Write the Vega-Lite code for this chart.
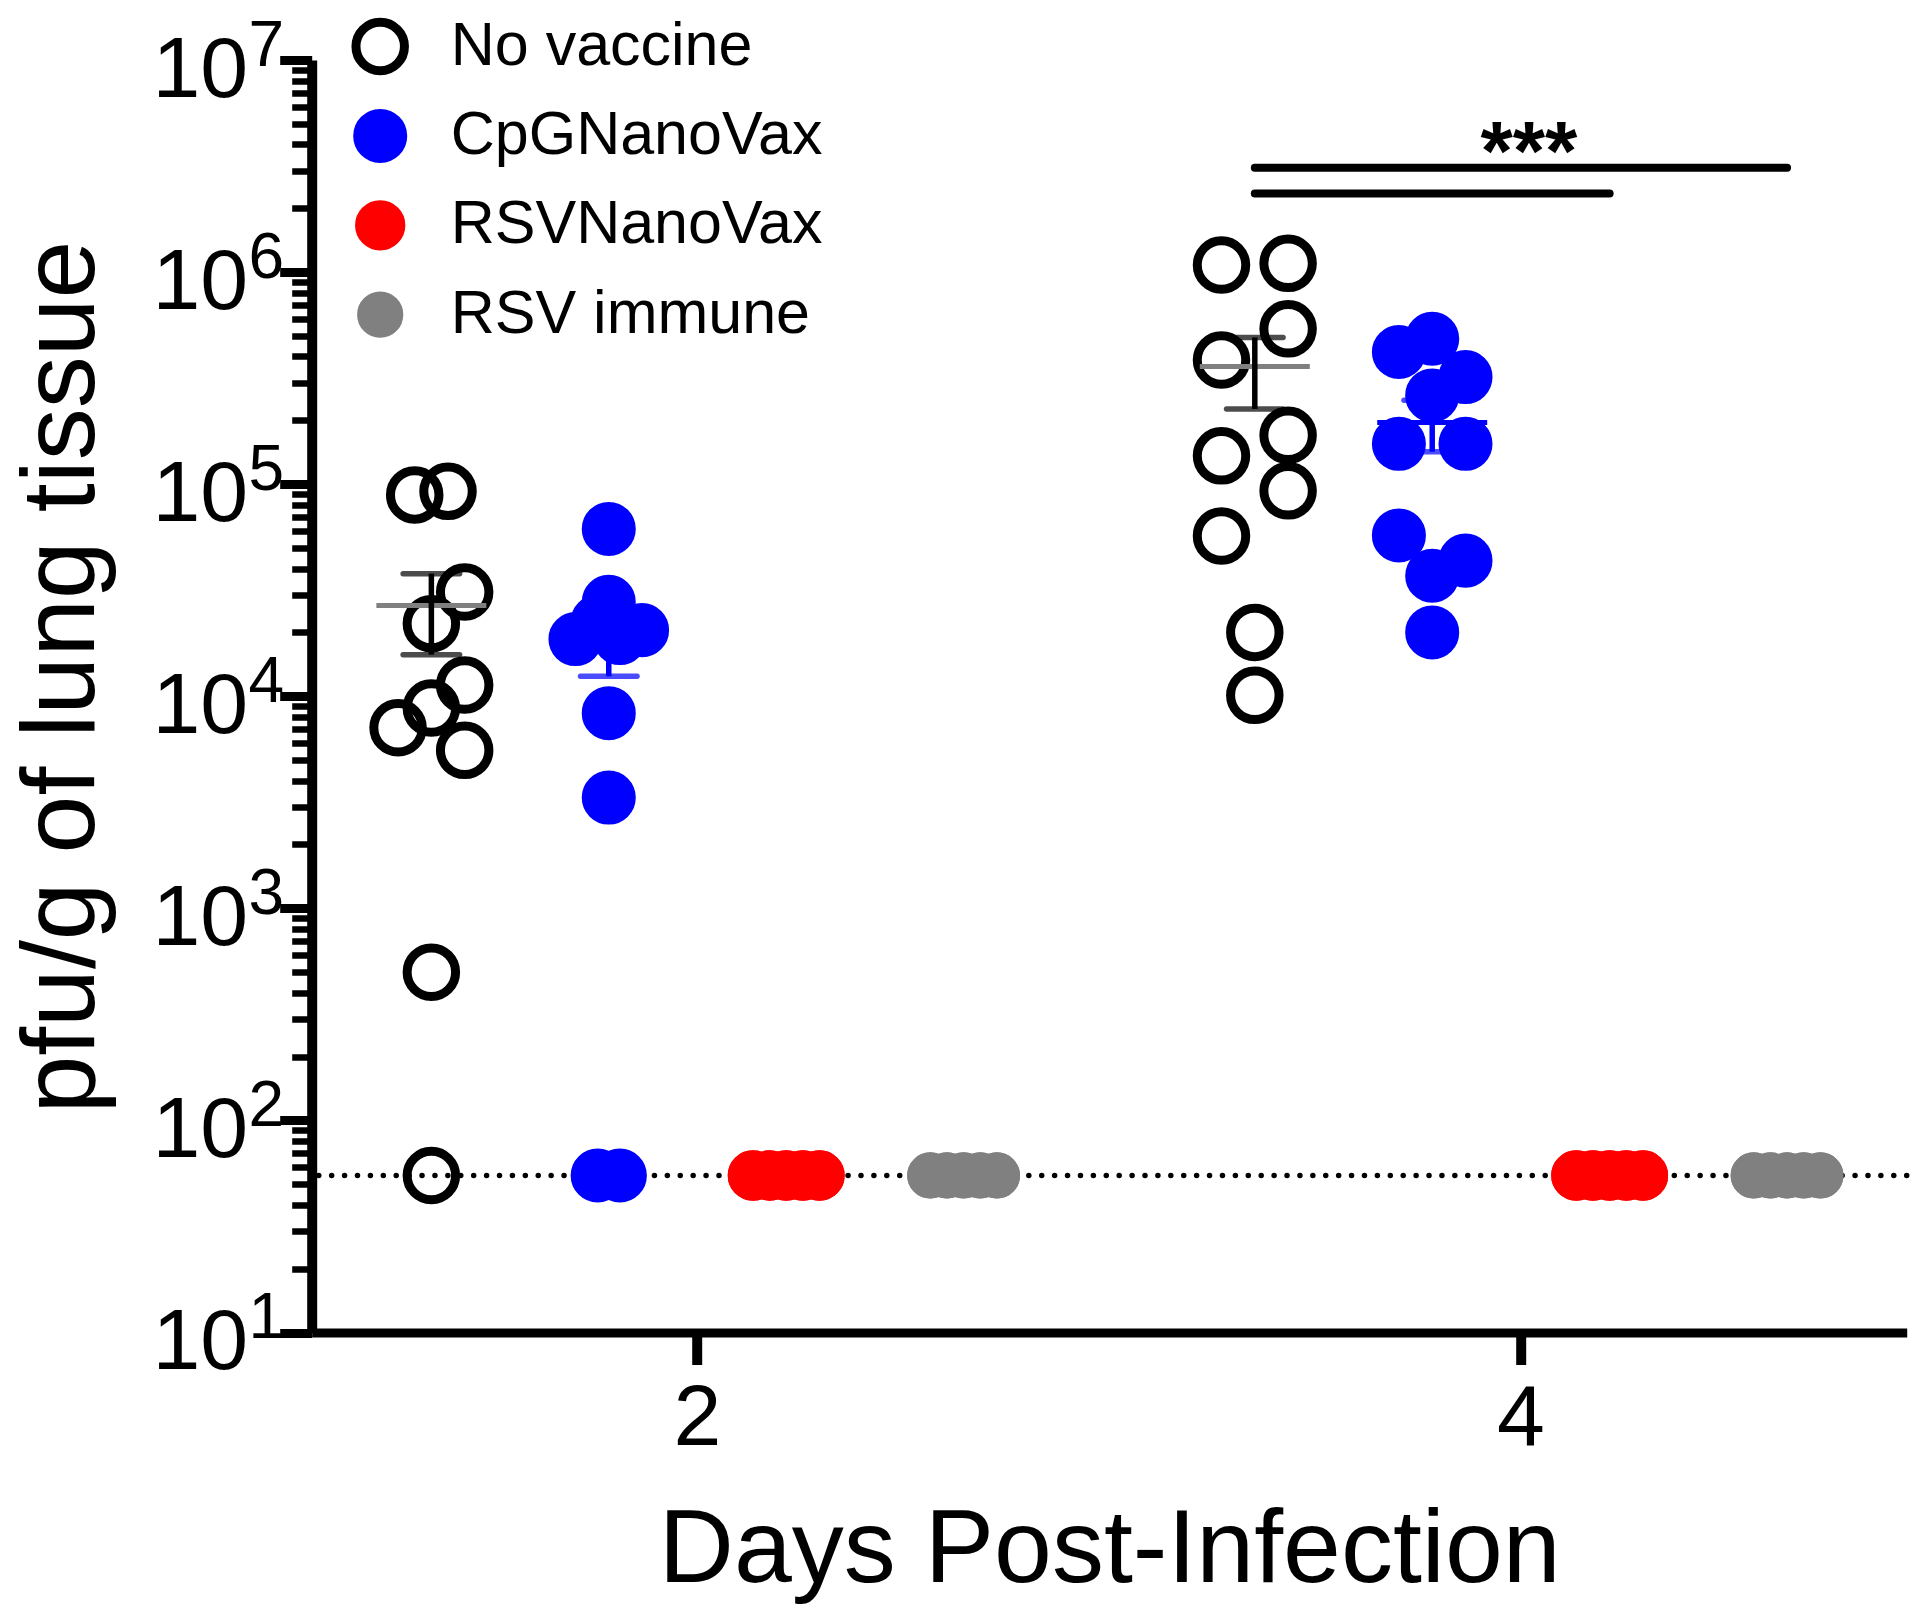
{
  "$schema": "https://vega.github.io/schema/vega-lite/v6.json",
  "width": 1595,
  "height": 1272.5,
  "autosize": {"type": "none"},
  "padding": {"left": 311.7, "top": 60, "right": 13.3, "bottom": 287.5},
  "background": "white",
  "datasets": {
    "points": [
      {"day": 2, "group": "No vaccine", "pfu": 92500, "col": 3},
      {"day": 2, "group": "No vaccine", "pfu": 89000, "col": -3},
      {"day": 2, "group": "No vaccine", "pfu": 31000, "col": 6},
      {"day": 2, "group": "No vaccine", "pfu": 22000, "col": 0},
      {"day": 2, "group": "No vaccine", "pfu": 11300, "col": 6},
      {"day": 2, "group": "No vaccine", "pfu": 8800, "col": 0},
      {"day": 2, "group": "No vaccine", "pfu": 7100, "col": -6},
      {"day": 2, "group": "No vaccine", "pfu": 5560, "col": 6},
      {"day": 2, "group": "No vaccine", "pfu": 500, "col": 0},
      {"day": 2, "group": "No vaccine", "pfu": 55, "col": 0},
      {"day": 2, "group": "CpGNanoVax", "pfu": 61500, "col": 0},
      {"day": 2, "group": "CpGNanoVax", "pfu": 27900, "col": 0},
      {"day": 2, "group": "CpGNanoVax", "pfu": 22500, "col": -2},
      {"day": 2, "group": "CpGNanoVax", "pfu": 20500, "col": 6},
      {"day": 2, "group": "CpGNanoVax", "pfu": 18800, "col": 2},
      {"day": 2, "group": "CpGNanoVax", "pfu": 18600, "col": -6},
      {"day": 2, "group": "CpGNanoVax", "pfu": 8320, "col": 0},
      {"day": 2, "group": "CpGNanoVax", "pfu": 3330, "col": 0},
      {"day": 2, "group": "CpGNanoVax", "pfu": 55, "col": -2},
      {"day": 2, "group": "CpGNanoVax", "pfu": 55, "col": 2},
      {"day": 2, "group": "RSVNanoVax", "pfu": 55, "col": -6},
      {"day": 2, "group": "RSVNanoVax", "pfu": 55, "col": -6},
      {"day": 2, "group": "RSVNanoVax", "pfu": 55, "col": -3},
      {"day": 2, "group": "RSVNanoVax", "pfu": 55, "col": -3},
      {"day": 2, "group": "RSVNanoVax", "pfu": 55, "col": 0},
      {"day": 2, "group": "RSVNanoVax", "pfu": 55, "col": 0},
      {"day": 2, "group": "RSVNanoVax", "pfu": 55, "col": 3},
      {"day": 2, "group": "RSVNanoVax", "pfu": 55, "col": 3},
      {"day": 2, "group": "RSVNanoVax", "pfu": 55, "col": 6},
      {"day": 2, "group": "RSVNanoVax", "pfu": 55, "col": 6},
      {"day": 2, "group": "RSV immune", "pfu": 55, "col": -6},
      {"day": 2, "group": "RSV immune", "pfu": 55, "col": -6},
      {"day": 2, "group": "RSV immune", "pfu": 55, "col": -3},
      {"day": 2, "group": "RSV immune", "pfu": 55, "col": -3},
      {"day": 2, "group": "RSV immune", "pfu": 55, "col": 0},
      {"day": 2, "group": "RSV immune", "pfu": 55, "col": 0},
      {"day": 2, "group": "RSV immune", "pfu": 55, "col": 3},
      {"day": 2, "group": "RSV immune", "pfu": 55, "col": 3},
      {"day": 2, "group": "RSV immune", "pfu": 55, "col": 6},
      {"day": 2, "group": "RSV immune", "pfu": 55, "col": 6},
      {"day": 4, "group": "No vaccine", "pfu": 1100000, "col": 6},
      {"day": 4, "group": "No vaccine", "pfu": 1080000, "col": -6},
      {"day": 4, "group": "No vaccine", "pfu": 540000, "col": 6},
      {"day": 4, "group": "No vaccine", "pfu": 385000, "col": -6},
      {"day": 4, "group": "No vaccine", "pfu": 170000, "col": 6},
      {"day": 4, "group": "No vaccine", "pfu": 136000, "col": -6},
      {"day": 4, "group": "No vaccine", "pfu": 93000, "col": 6},
      {"day": 4, "group": "No vaccine", "pfu": 57000, "col": -6},
      {"day": 4, "group": "No vaccine", "pfu": 20000, "col": 0},
      {"day": 4, "group": "No vaccine", "pfu": 10100, "col": 0},
      {"day": 4, "group": "CpGNanoVax", "pfu": 485000, "col": 0},
      {"day": 4, "group": "CpGNanoVax", "pfu": 420000, "col": -6},
      {"day": 4, "group": "CpGNanoVax", "pfu": 320000, "col": 6},
      {"day": 4, "group": "CpGNanoVax", "pfu": 262000, "col": 0},
      {"day": 4, "group": "CpGNanoVax", "pfu": 155000, "col": -6},
      {"day": 4, "group": "CpGNanoVax", "pfu": 155000, "col": 6},
      {"day": 4, "group": "CpGNanoVax", "pfu": 57300, "col": -6},
      {"day": 4, "group": "CpGNanoVax", "pfu": 43600, "col": 6},
      {"day": 4, "group": "CpGNanoVax", "pfu": 37000, "col": 0},
      {"day": 4, "group": "CpGNanoVax", "pfu": 20000, "col": 0},
      {"day": 4, "group": "RSVNanoVax", "pfu": 55, "col": -6},
      {"day": 4, "group": "RSVNanoVax", "pfu": 55, "col": -6},
      {"day": 4, "group": "RSVNanoVax", "pfu": 55, "col": -3},
      {"day": 4, "group": "RSVNanoVax", "pfu": 55, "col": -3},
      {"day": 4, "group": "RSVNanoVax", "pfu": 55, "col": 0},
      {"day": 4, "group": "RSVNanoVax", "pfu": 55, "col": 0},
      {"day": 4, "group": "RSVNanoVax", "pfu": 55, "col": 3},
      {"day": 4, "group": "RSVNanoVax", "pfu": 55, "col": 3},
      {"day": 4, "group": "RSVNanoVax", "pfu": 55, "col": 6},
      {"day": 4, "group": "RSVNanoVax", "pfu": 55, "col": 6},
      {"day": 4, "group": "RSV immune", "pfu": 55, "col": -6},
      {"day": 4, "group": "RSV immune", "pfu": 55, "col": -6},
      {"day": 4, "group": "RSV immune", "pfu": 55, "col": -3},
      {"day": 4, "group": "RSV immune", "pfu": 55, "col": -3},
      {"day": 4, "group": "RSV immune", "pfu": 55, "col": 0},
      {"day": 4, "group": "RSV immune", "pfu": 55, "col": 0},
      {"day": 4, "group": "RSV immune", "pfu": 55, "col": 3},
      {"day": 4, "group": "RSV immune", "pfu": 55, "col": 3},
      {"day": 4, "group": "RSV immune", "pfu": 55, "col": 6},
      {"day": 4, "group": "RSV immune", "pfu": 55, "col": 6}
    ],
    "sig": [
      {"day": 4, "pair": "No vaccine vs RSV immune", "group": "No vaccine", "level": 3100000},
      {"day": 4, "pair": "No vaccine vs RSV immune", "group": "RSV immune", "level": 3100000},
      {"day": 4, "pair": "No vaccine vs RSVNanoVax", "group": "No vaccine", "level": 2350000},
      {"day": 4, "pair": "No vaccine vs RSVNanoVax", "group": "RSVNanoVax", "level": 2350000}
    ],
    "stars": [{"day": 4, "label": "***", "level": 2720000}],
    "lod": [{"lod": 55}]
  },
  "layer": [
    {
      "data": {"name": "lod"},
      "mark": {"type": "rule", "color": "black", "strokeWidth": 5.5, "strokeDash": [0.01, 12.9], "strokeCap": "round"},
      "encoding": {
        "y": {"field": "lod", "type": "quantitative", "title": null,
          "axis": {
            "orient": "left",
            "values": [10, 100, 1000, 10000, 100000, 1000000, 10000000],
            "labelExpr": "'' + round(log(datum.value)/LN10)",
            "labelOverlap": false,
            "labelFontSize": 64,
            "labelBaseline": "alphabetic",
            "labelOffset": 5,
            "labelPadding": -4,
            "ticks": true,
            "tickSize": 32,
            "tickOpacity": 0,
            "domain": false,
            "title": null
          }}
      }
    },
    {
      "data": {"name": "points"},
      "transform": [{"filter": "datum.group == 'No vaccine'"}],
      "mark": {"type": "point", "shape": "circle", "filled": true, "opacity": 1, "strokeWidth": 9},
      "encoding": {
        "x": {"field": "day", "type": "ordinal", "title": "Days Post-Infection",
          "scale": {"domain": [2, 4], "paddingInner": 0.063, "paddingOuter": 0},
          "axis": {"labelAngle": 0, "labelFontSize": 86, "labelPadding": 12, "tickSize": 32, "tickWidth": 10, "domainWidth": 9, "titleFontSize": 104, "titlePadding": 38}},
        "xOffset": {"field": "col", "type": "quantitative", "scale": {"domain": [-21.56, 117.45], "zero": false, "nice": false}},
        "y": {"field": "pfu", "type": "quantitative", "title": "pfu/g of lung tissue",
          "scale": {"type": "log", "domain": [10, 10000000], "nice": false},
          "axis": {
            "orient": "left",
            "values": [10,20,30,40,50,60,70,80,90,100,200,300,400,500,600,700,800,900,1000,2000,3000,4000,5000,6000,7000,8000,9000,10000,20000,30000,40000,50000,60000,70000,80000,90000,100000,200000,300000,400000,500000,600000,700000,800000,900000,1000000,2000000,3000000,4000000,5000000,6000000,7000000,8000000,9000000,10000000],
            "labelExpr": "abs(log(datum.value)/LN10 - round(log(datum.value)/LN10)) < 0.001 ? '10' : ''",
            "labelOverlap": false,
            "labelFontSize": 86,
            "labelBaseline": "alphabetic",
            "labelOffset": 36,
            "labelPadding": 32,
            "tickSize": {"condition": {"test": "abs(log(datum.value)/LN10 - round(log(datum.value)/LN10)) < 0.001", "value": 32}, "value": 20},
            "tickWidth": {"condition": {"test": "abs(log(datum.value)/LN10 - round(log(datum.value)/LN10)) < 0.001", "value": 9}, "value": 6.5},
            "domainWidth": 10,
            "titleFontSize": 104,
            "titleX": -196,
            "titleY": 616.6
          }},
        "fill": {"field": "group", "type": "nominal", "title": null, "scale": {"domain": ["No vaccine", "CpGNanoVax", "RSVNanoVax", "RSV immune"], "range": ["transparent", "#0000ff", "#ff0000", "#808080"]}},
        "stroke": {"field": "group", "type": "nominal", "title": null, "scale": {"domain": ["No vaccine", "CpGNanoVax", "RSVNanoVax", "RSV immune"], "range": ["#000000", "#0000ff", "#ff0000", "#808080"]}},
        "size": {"field": "group", "type": "nominal", "title": null, "scale": {"domain": ["No vaccine", "CpGNanoVax", "RSVNanoVax", "RSV immune"], "range": [2350, 1385, 1385, 1385]}}
      }
    },
    {
      "data": {"name": "points"},
      "transform": [{"filter": "datum.group == 'CpGNanoVax'"}],
      "mark": {"type": "point", "shape": "circle", "filled": true, "opacity": 1, "strokeWidth": 9},
      "encoding": {
        "x": {"field": "day", "type": "ordinal", "title": "Days Post-Infection"},
        "xOffset": {"field": "col", "type": "quantitative", "scale": {"domain": [-53.52, 85.49], "zero": false, "nice": false}},
        "y": {"field": "pfu", "type": "quantitative", "axis": null},
        "fill": {"field": "group", "type": "nominal", "title": null},
        "stroke": {"field": "group", "type": "nominal", "title": null},
        "size": {"field": "group", "type": "nominal", "title": null}
      }
    },
    {
      "data": {"name": "points"},
      "transform": [{"filter": "datum.group == 'RSVNanoVax'"}],
      "mark": {"type": "point", "shape": "circle", "filled": true, "opacity": 1, "strokeWidth": 9},
      "encoding": {
        "x": {"field": "day", "type": "ordinal", "title": "Days Post-Infection"},
        "xOffset": {"field": "col", "type": "quantitative", "scale": {"domain": [-85.49, 53.52], "zero": false, "nice": false}},
        "y": {"field": "pfu", "type": "quantitative", "axis": null},
        "fill": {"field": "group", "type": "nominal", "title": null},
        "stroke": {"field": "group", "type": "nominal", "title": null},
        "size": {"field": "group", "type": "nominal", "title": null}
      }
    },
    {
      "data": {"name": "points"},
      "transform": [{"filter": "datum.group == 'RSV immune'"}],
      "mark": {"type": "point", "shape": "circle", "filled": true, "opacity": 1, "strokeWidth": 9},
      "encoding": {
        "x": {"field": "day", "type": "ordinal", "title": "Days Post-Infection"},
        "xOffset": {"field": "col", "type": "quantitative", "scale": {"domain": [-117.45, 21.56], "zero": false, "nice": false}},
        "y": {"field": "pfu", "type": "quantitative", "axis": null},
        "fill": {"field": "group", "type": "nominal", "title": null},
        "stroke": {"field": "group", "type": "nominal", "title": null},
        "size": {"field": "group", "type": "nominal", "title": null}
      }
    },
    {
      "data": {"name": "points"},
      "mark": {"type": "tick", "thickness": 5, "size": 110, "opacity": 1},
      "encoding": {
        "x": {"field": "day", "type": "ordinal", "title": "Days Post-Infection"},
        "xOffset": {"field": "group", "type": "nominal", "scale": {"domain": ["No vaccine", "CpGNanoVax", "RSVNanoVax", "RSV immune"], "paddingInner": 0, "paddingOuter": 0.1745}},
        "y": {"aggregate": "mean", "field": "pfu", "type": "quantitative", "axis": null},
        "color": {"field": "group", "type": "nominal", "legend": null, "scale": {"domain": ["No vaccine", "CpGNanoVax", "RSVNanoVax", "RSV immune"], "range": ["#808080", "#0000ff", "#ff0000", "#808080"]}}
      }
    },
    {
      "data": {"name": "points"},
      "mark": {"type": "errorbar", "extent": "stderr", "ticks": {"thickness": 5.5, "size": 62, "cornerRadius": 2.5}, "rule": {"strokeWidth": 5.5}, "size": 62, "thickness": 5.5},
      "encoding": {
        "x": {"field": "day", "type": "ordinal", "title": "Days Post-Infection"},
        "xOffset": {"field": "group", "type": "nominal", "scale": {"domain": ["No vaccine", "CpGNanoVax", "RSVNanoVax", "RSV immune"], "paddingInner": 0, "paddingOuter": 0.1745}},
        "y": {"field": "pfu", "type": "quantitative", "axis": null},
        "color": {"field": "group", "type": "nominal", "legend": null, "scale": {"domain": ["No vaccine", "CpGNanoVax", "RSVNanoVax", "RSV immune"], "range": ["#000000", "#0000ff", "#ff0000", "#808080"]}}
      }
    },
    {
      "data": {"name": "sig"},
      "mark": {"type": "line", "color": "black", "strokeWidth": 8, "strokeCap": "round"},
      "encoding": {
        "x": {"field": "day", "type": "ordinal", "title": "Days Post-Infection"},
        "xOffset": {"field": "group", "type": "nominal", "scale": {"type": "point", "domain": ["No vaccine", "CpGNanoVax", "RSVNanoVax", "RSV immune"], "padding": 0.6745}},
        "y": {"field": "level", "type": "quantitative", "axis": null},
        "detail": {"field": "pair", "type": "nominal"}
      }
    },
    {
      "data": {"name": "stars"},
      "mark": {"type": "text", "fontSize": 83, "fontWeight": "bold", "baseline": "alphabetic", "align": "center", "color": "black", "dx": 8},
      "encoding": {
        "x": {"field": "day", "type": "ordinal", "title": "Days Post-Infection"},
        "y": {"field": "level", "type": "quantitative", "axis": null},
        "text": {"field": "label", "type": "nominal"}
      }
    }
  ],
  "resolve": {"scale": {"color": "independent", "xOffset": "independent"}, "axis": {"y": "independent"}},
  "config": {
    "font": "Liberation Sans",
    "view": {"stroke": null},
    "axis": {"domainColor": "black", "tickColor": "black", "labelColor": "black", "titleColor": "black", "labelFont": "Liberation Sans", "titleFont": "Liberation Sans", "titleFontWeight": "normal", "grid": false},
    "legend": {"orient": "none", "legendX": 38, "legendY": -52, "labelFont": "Liberation Sans", "labelFontSize": 61, "labelColor": "black", "labelLimit": 1000, "symbolStrokeWidth": 9, "clipHeight": 77, "rowPadding": 12.4, "labelOffset": 40, "padding": 0, "symbolOpacity": 1}
  }
}
